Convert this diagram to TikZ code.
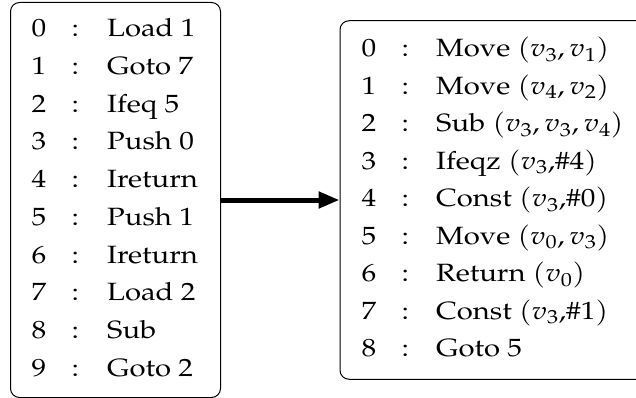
\documentclass[tikz,border=0pt]{standalone}
\usepackage[T1]{fontenc}
\usepackage{mathpazo}
\usetikzlibrary{arrows.meta}

\tikzset{
  codebox/.style={draw=black, line width=1pt, rounded corners=9pt, inner sep=0pt},
  txt/.style={inner sep=0pt, anchor=base west, xscale=1.17,
              font=\fontsize{25}{30}\selectfont},
  flow/.style={line width=5pt, -{Triangle[length=21pt,width=16pt]}}
}

\begin{document}
\begin{tikzpicture}[x=1pt, y=-1pt]
  \path[use as bounding box, clip] (0,0) rectangle (636,398);

  % the two listings
  \node[codebox, minimum width=210pt, minimum height=395pt] (lbox) at (115.5,200) {};
  \node[codebox, minimum width=307pt, minimum height=358.5pt] (rbox) at (493.5,200) {};

  % bytecode listing
  \foreach \n/\ins [count=\k from 0] in {0/Load 1, 1/Goto 7, 2/Ifeq 5, 3/Push 0,
      4/Ireturn, 5/Push 1, 6/Ireturn, 7/Load 2, 8/Sub, 9/Goto 2} {
    \node[txt] (lnum\k) at (31.5, 36.8+37.7*\k) {\n};
    \node[txt] (lcol\k) at (71.5, 36.8+37.7*\k) {:};
    \node[txt] (lins\k) at (107, 36.8+37.7*\k) {\ins};
  }

  % register listing
  \foreach \n/\ins [count=\k from 0] in {
      0/{Move $(v_3,v_1)$}, 1/{Move $(v_4,v_2)$}, 2/{Sub $(v_3,v_3,v_4)$},
      3/{Ifeqz $(v_3,$\#4$)$}, 4/{Const $(v_3,$\#0$)$}, 5/{Move $(v_0,v_3)$},
      6/{Return $(v_0)$}, 7/{Const $(v_3,$\#1$)$}, 8/{Goto 5}} {
    \node[txt] (rnum\k) at (361.5, 56.7+37.5*\k) {\n};
    \node[txt] (rcol\k) at (401.5, 56.7+37.5*\k) {:};
    \node[txt] (rins\k) at (436, 56.7+37.5*\k) {\ins};
  }

  % translation arrow
  \draw[flow] (lbox.east) -- (rbox.west);
\end{tikzpicture}
\end{document}
